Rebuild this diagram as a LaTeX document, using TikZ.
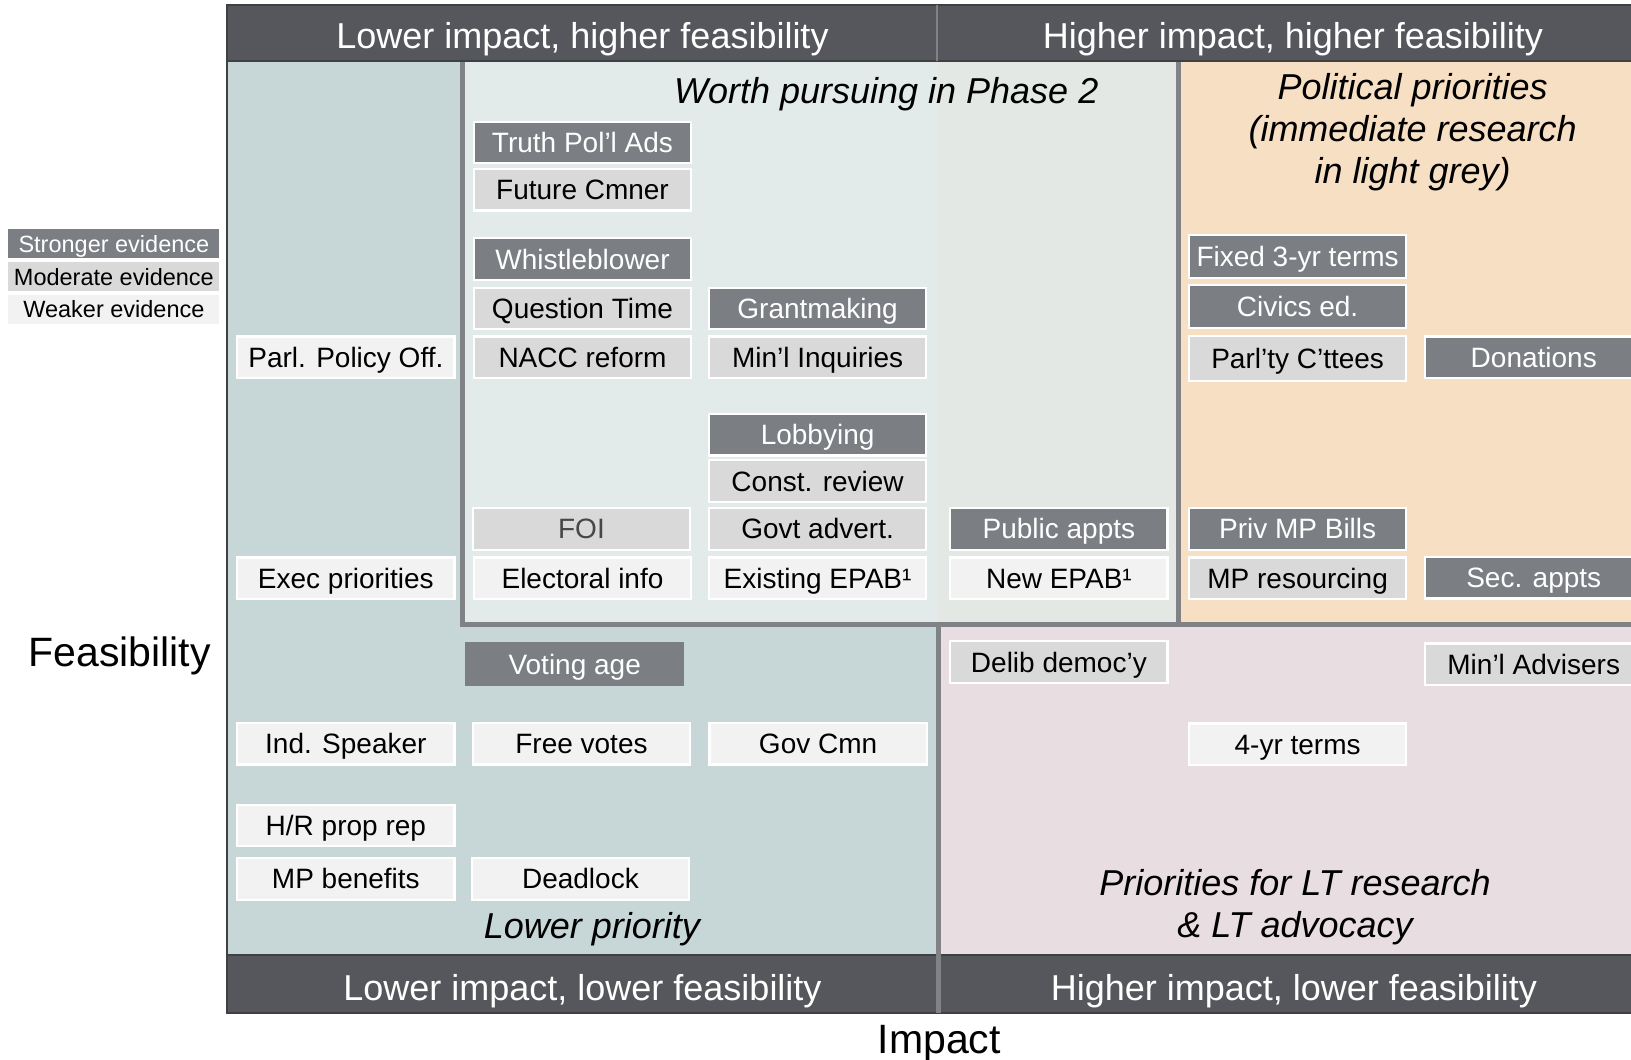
\documentclass[tikz,border=0pt]{standalone}
\usepackage{fontspec}
\setmainfont{Liberation Sans}
\definecolor{bandc}{RGB}{85,87,92}
\definecolor{bandedge}{RGB}{62,64,68}
\definecolor{strongc}{RGB}{123,126,131}
\definecolor{moderc}{RGB}{217,217,217}
\definecolor{weakc}{RGB}{242,242,242}
\definecolor{leftq}{RGB}{199,214,214}
\definecolor{phaseA}{RGB}{227,234,234}
\definecolor{phaseB}{RGB}{228,232,228}
\definecolor{orangeq}{RGB}{246,223,195}
\definecolor{pinkq}{RGB}{232,221,224}
\definecolor{sepline}{RGB}{128,130,133}
\begin{document}
\begin{tikzpicture}[x=1.0402pt,y=-1.0402pt,
  itembox/.style={draw=white, line width=2.2pt, minimum width=217.3pt, minimum height=41.5pt,
    inner sep=0pt, font=\fontsize{28}{30}\selectfont, text height=20pt, text depth=0pt, text=black},
  strongbox/.style={itembox, fill=strongc, text=white},
  modbox/.style={itembox, fill=moderc},
  weakbox/.style={itembox, fill=weakc},
  legbox/.style={minimum width=211pt, minimum height=29pt, inner sep=0pt,
    font=\fontsize{23.5}{26}\selectfont, text height=16.8pt, text depth=0pt, text=black},
  bandtext/.style={text=white, inner sep=0pt, font=\fontsize{36}{40}\selectfont, text height=25.8pt, text depth=0pt},
  titletext/.style={inner sep=0pt, font=\fontsize{36}{42}\selectfont\itshape, align=center},
  axistext/.style={inner sep=0pt, font=\fontsize{41}{46}\selectfont, text height=29.4pt, text depth=0pt},
  sep/.style={draw=sepline, line width=5pt}
]
\useasboundingbox (0,0) rectangle (1568,1019);
\fill[white] (0,0) rectangle (1568,1019);

% quadrant backgrounds
\fill[leftq] (218,59) rectangle (902,918);
\fill[pinkq] (902,600) rectangle (1570,918);
\fill[orangeq] (1133,59) rectangle (1570,600);
\fill[phaseA] (445,59) rectangle (902,600);
\fill[phaseB] (902,59) rectangle (1133,600);

% separators of the Phase 2 region
\draw[sep, line join=miter] (445,59) -- (445,600) -- (1570,600);
\draw[sep] (1133,59) -- (1133,600);

% bands
\fill[bandc, draw=bandedge, line width=2pt] (218,4.5) rectangle (1572,59);
\fill[bandc, draw=bandedge, line width=2pt] (218,918) rectangle (1572,974);
\draw[draw=sepline, line width=2pt] (901,4.5) -- (901,59);
\draw[draw=sepline, line width=4.5pt] (902,600) -- (902,974);
\draw[draw=bandedge, line width=1.5pt] (218,4.5) -- (218,974);

\node[bandtext] (tl) at (560,34.5) {Lower impact, higher feasibility};
\node[bandtext] (tr) at (1243,34.5) {Higher impact, higher feasibility};
\node[bandtext] (bl) at (560,949) {Lower impact, lower feasibility};
\node[bandtext] (br) at (1244,949) {Higher impact, lower feasibility};

% region titles
\node[titletext, text height=25.8pt, text depth=0pt] (phase2) at (852,87) {Worth pursuing in Phase 2};
\node[titletext, anchor=north] (polpri) at (1358,70.5) {Political priorities\\(immediate research\\in light grey)};
\node[titletext, text height=25.8pt, text depth=0pt] (lowpri) at (569,890) {Lower priority};
\node[titletext, anchor=north] (ltpri) at (1245,836) {Priorities for LT research\\\& LT advocacy};

% axis labels
\node[axistext] (feas) at (115,627) {Feasibility};
\node[axistext] (imp) at (903,999) {Impact};

% legend
\node[legbox, fill=strongc, text=white] (lg1) at (109.5,234.5) {Stronger evidence};
\node[legbox, fill=moderc] (lg2) at (109.5,266) {Moderate evidence};
\node[legbox, fill=weakc] (lg3) at (109.5,297.5) {Weaker evidence};

% items
\node[strongbox] (truth) at (560,137) {Truth Pol’l Ads};
\node[modbox] (future) at (560,182.5) {Future Cmner};
\node[strongbox] (whistle) at (560,249) {Whistleblower};
\node[modbox] (qtime) at (560,296.5) {Question Time};
\node[modbox] (nacc) at (560,343.5) {NACC reform};
\node[strongbox] (grant) at (786,296.5) {Grantmaking};
\node[modbox] (mininq) at (786,343.5) {Min’l Inquiries};
\node[weakbox] (parlpol) at (332.5,343.5) {Parl. Policy Off.};
\node[strongbox, minimum height=43pt] (fixed) at (1247.5,246.5) {Fixed 3-yr terms};
\node[strongbox, minimum height=43pt] (civics) at (1247.5,294.5) {Civics ed.};
\node[modbox, minimum height=45pt] (parlty) at (1247.5,345) {Parl’ty C’ttees};
\node[strongbox] (donat) at (1474.5,343.5) {Donations};
\node[strongbox] (lobby) at (786,418) {Lobbying};
\node[modbox] (const) at (786,462.5) {Const. review};
\node[modbox, text=black!72] (foi) at (559,508.5) {FOI};
\node[modbox] (govt) at (786,508.5) {Govt advert.};
\node[strongbox] (public) at (1018,508.5) {Public appts};
\node[strongbox] (privmp) at (1247.5,508.5) {Priv MP Bills};
\node[weakbox] (exec) at (332.5,556) {Exec priorities};
\node[weakbox] (elect) at (560,556) {Electoral info};
\node[weakbox] (exist) at (786,556) {Existing EPAB¹};
\node[weakbox] (newepab) at (1018,556) {New EPAB¹};
\node[modbox] (mpres) at (1247.5,556) {MP resourcing};
\node[strongbox] (secap) at (1474.5,555.5) {Sec. appts};
\node[strongbox, draw=none, minimum width=219.5pt, minimum height=43.5pt] (voting) at (552.5,638.5) {Voting age};
\node[modbox] (delib) at (1018,636.5) {Delib democ’y};
\node[modbox] (minadv) at (1474.5,638.5) {Min’l Advisers};
\node[weakbox] (indsp) at (332.5,715) {Ind. Speaker};
\node[weakbox] (free) at (559,715) {Free votes};
\node[weakbox] (govcmn) at (786.5,715) {Gov Cmn};
\node[weakbox] (fouryr) at (1247.5,715.5) {4-yr terms};
\node[weakbox] (hrprop) at (332.5,793.5) {H/R prop rep};
\node[weakbox] (mpben) at (332.5,845) {MP benefits};
\node[weakbox] (deadl) at (558,845) {Deadlock};
\end{tikzpicture}
\end{document}
